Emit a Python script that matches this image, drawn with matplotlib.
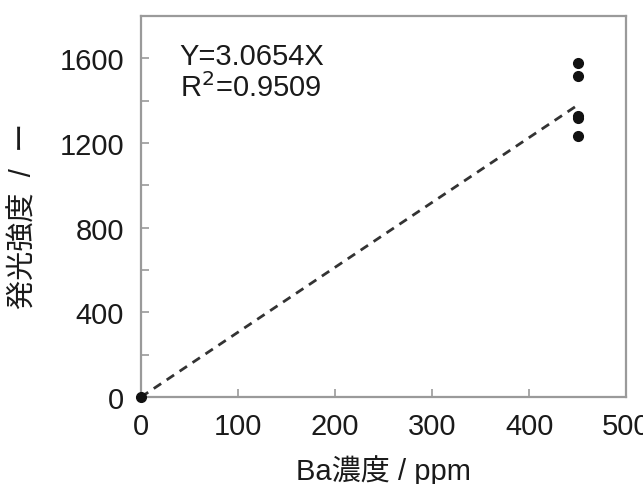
import numpy as np
import matplotlib
matplotlib.use("Agg")
import matplotlib.pyplot as plt

plt.rcParams['font.family'] = ['Liberation Sans', 'Noto Sans CJK JP', 'DejaVu Sans']

# data
conc = [0, 450, 450, 450, 450, 450]
intensity = [0, 1580, 1516, 1330, 1316, 1231]
slope = 3.0654
r2 = 0.9509
fit_x = np.array([0, 450])

fig = plt.figure(figsize=(6.43, 4.85), dpi=100)
ax = fig.add_axes([0.219, 0.179, 0.755, 0.786])

ax.plot(fit_x, slope * fit_x, color='#333333', linestyle=(0, (3.2, 2.4)), linewidth=2.0, zorder=2)
ax.plot(conc, intensity, 'o', color='#111111', markersize=7, clip_on=False, zorder=3)

ax.set_xlim(0, 500)
ax.set_ylim(0, 1800)
ax.set_xticks([0, 100, 200, 300, 400, 500])
ax.set_yticks([0, 400, 800, 1200, 1600])
ax.set_yticks(np.arange(200, 1800, 400), minor=True)

gray = '#9a9a9a'
for s in ax.spines.values():
    s.set_color(gray)
    s.set_linewidth(1.6)
ax.tick_params(axis='both', which='both', direction='in', color=gray, width=1.2,
               length=6, labelsize=21, pad=12, labelcolor='#1a1a1a')
ax.tick_params(axis='x', pad=11)

ax.text(40, 1610, f"Y={slope}X", fontsize=21, va='center', color='#1a1a1a')
ax.text(40, 1465, f"R$^2$={r2}", fontsize=21, va='center', color='#1a1a1a')

ax.set_xlabel("Ba濃度 / ppm", fontsize=21, color='#1a1a1a')
ax.xaxis.set_label_coords(0.5, -0.15)
ax.set_ylabel("発光強度  /  ー", fontsize=21, color='#1a1a1a')
ax.yaxis.set_label_coords(-0.212, 0.478)

fig.savefig("out.png", dpi=100)
